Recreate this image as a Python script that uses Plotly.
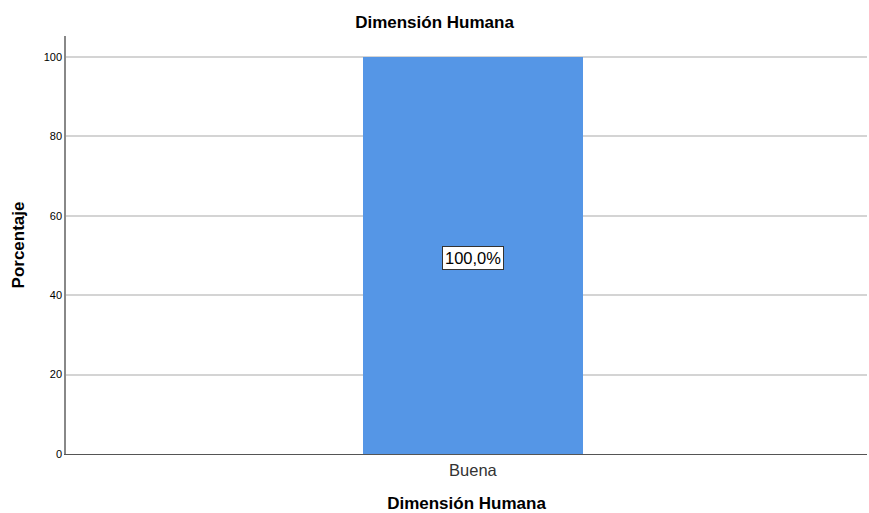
import plotly.graph_objects as go

# Frequency chart data
categories = ["Buena"]
percentages = [100.0]
value_labels = ["100,0%"]
tick_values = [0, 20, 40, 60, 80, 100]

FONT = "Liberation Sans, Arial"

fig = go.Figure()
fig.add_trace(go.Bar(
    x=categories,
    y=percentages,
    width=0.275,
    marker=dict(color="#5596E6", line=dict(color="#5596E6", width=0)),
    hoverinfo="skip",
))

# Value label in a boxed annotation at mid-height of the bar
for cat, val, lab in zip(categories, percentages, value_labels):
    fig.add_annotation(
        x=cat, y=val / 2 - 0.6, text=lab, showarrow=False,
        font=dict(family=FONT, size=16.5, color="#000000"),
        bgcolor="#FFFFFF", bordercolor="#333333", borderwidth=1, borderpad=2,
    )

fig.update_layout(
    width=869, height=513,
    margin=dict(l=66, r=2, t=36, b=59, autoexpand=False),
    paper_bgcolor="#FFFFFF", plot_bgcolor="#FFFFFF",
    showlegend=False,
    bargap=0,
    title=dict(
        text="<b>Dimensión Humana</b>", x=0.5, xanchor="center",
        y=1 - 22 / 513, yanchor="middle",
        font=dict(family=FONT, size=17, color="#000000"),
    ),
    xaxis=dict(
        range=[-0.508, 0.492], automargin=False,
        showgrid=False, zeroline=False,
        showline=True, linecolor="#555555", linewidth=1,
        ticks="", ticklabelstandoff=1,
        tickfont=dict(family=FONT, size=16.5, color="#333333"),
        title=dict(text="<b>Dimensión Humana</b>", standoff=23,
                   font=dict(family=FONT, size=17, color="#000000")),
    ),
    yaxis=dict(
        range=[0, 105.3], tickvals=tick_values, automargin=False,
        showgrid=True, gridcolor="#D4D4D4", gridwidth=1.5,
        zeroline=False,
        showline=True, linecolor="#888888", linewidth=1.5,
        ticks="", ticklen=0,
        tickfont=dict(family=FONT, size=11, color="#000000"),
        title=dict(text="<b>Porcentaje</b>", standoff=15,
                   font=dict(family=FONT, size=17, color="#000000")),
    ),
)

fig.write_html("out.html")
